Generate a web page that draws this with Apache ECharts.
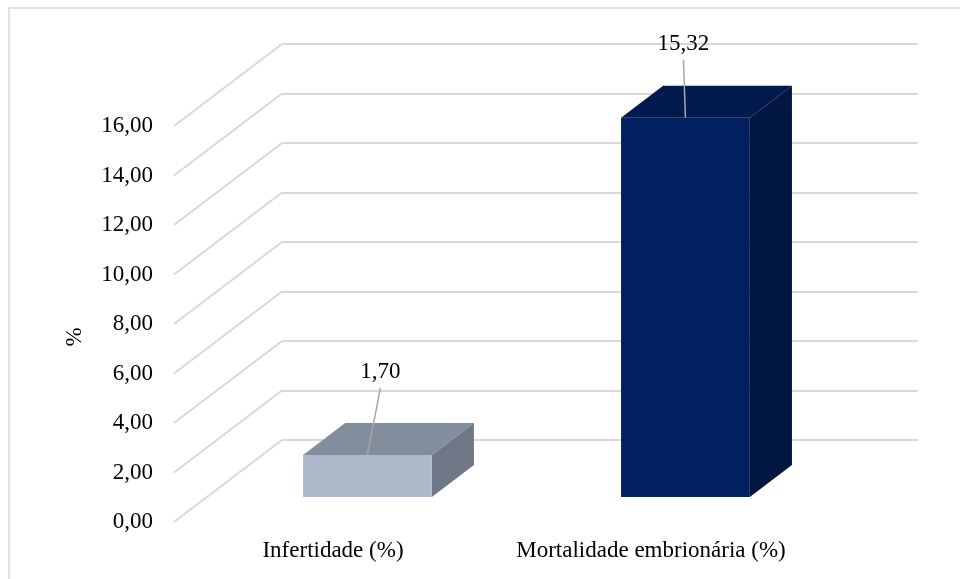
<!DOCTYPE html>
<html>
<head>
<meta charset="utf-8">
<script src="https://cdn.jsdelivr.net/npm/echarts@6/dist/echarts.min.js"></script>
<style>
  html, body { margin: 0; padding: 0; background: #fff; }
  #chart { width: 960px; height: 579px; }
</style>
</head>
<body>
<div id="chart"></div>
<script>
// dados
const categories = ['Infertidade (%)', 'Mortalidade embrionária (%)'];
const values = [1.70, 15.32];
const yTicks = [0, 2, 4, 6, 8, 10, 12, 14, 16];

// cores das faces (frente, topo, lado)
const faceColors = [
  ['#adb9ca', '#838e9c', '#6e7887'],
  ['#002060', '#001a4e', '#011640']
];
// deslocamento do rótulo em relação ao topo da barra
const labelShift = [[13, -83], [-2, -74]];

// projeção da profundidade (parede de trás -> frente)
const DX = -108, DY = 82;
const FRONT = 0.695, BACK = 0.305;
const FONT = 'Liberation Serif';

const chart = echarts.init(document.getElementById('chart'));

function fmt(v) { return v.toFixed(2).replace('.', ','); }

function renderGrid(params, api) {
  const cs = params.coordSys;
  const y = api.coord([0, api.value(0)])[1];
  return {
    type: 'line',
    shape: { x1: cs.x, y1: y, x2: cs.x + DX, y2: y + DY },
    style: { stroke: '#d9d9d9', lineWidth: 2 },
    silent: true
  };
}

function renderBar(params, api) {
  const i = params.dataIndex;
  const val = api.value(1);
  const base = api.coord([i, 0]);
  const top = api.coord([i, val]);
  const hw = api.size([1, 0])[0] * 0.405 / 2;
  const cx = base[0] + 1.5;
  const fx = cx + DX * FRONT, fy = DY * FRONT;
  const bx = cx + DX * BACK, by = DY * BACK;
  const fL = fx - hw, fR = fx + hw, bL = bx - hw, bR = bx + hw;
  const fT = top[1] + fy, fB = base[1] + fy;
  const bT = top[1] + by, bB = base[1] + by;
  const c = faceColors[i];
  const sh = labelShift[i];
  return {
    type: 'group',
    children: [
      { type: 'polygon', shape: { points: [[fR, fT], [bR, bT], [bR, bB], [fR, fB]] }, style: { fill: c[2] } },
      { type: 'polygon', shape: { points: [[fL, fT], [fR, fT], [bR, bT], [bL, bT]] }, style: { fill: c[1] } },
      { type: 'rect', shape: { x: fL, y: fT, width: fR - fL, height: fB - fT }, style: { fill: c[0] } },
      { type: 'line', shape: { x1: fx, y1: fT, x2: fx + sh[0], y2: fT + sh[1] + 16 }, style: { stroke: '#a6a6a6', lineWidth: 1.5 } },
      {
        type: 'text', x: fx + sh[0], y: fT + sh[1],
        style: { text: fmt(val), fill: '#000', font: '23px ' + FONT, align: 'center', verticalAlign: 'middle' }
      }
    ]
  };
}

const option = {
  backgroundColor: '#fff',
  animation: false,
  graphic: [
    { type: 'rect', shape: { x: 9, y: 8, width: 1000, height: 1000 }, style: { fill: 'none', stroke: '#d9d9d9', lineWidth: 1.5 }, silent: true },
    { type: 'text', x: 75, y: 337, rotation: Math.PI / 2,
      style: { text: '%', fill: '#000', font: '23px ' + FONT, align: 'center', verticalAlign: 'middle' } }
  ],
  grid: [
    { left: 282, right: 42, top: 44, height: 396 },   // parede de trás
    { left: 174, width: 636, top: 126, height: 396 }  // borda da frente
  ],
  xAxis: [
    { type: 'category', gridIndex: 0, data: categories, show: false },
    {
      type: 'category', gridIndex: 1, data: categories,
      axisLine: { show: false }, axisTick: { show: false },
      axisLabel: { color: '#000', fontFamily: FONT, fontSize: 23, margin: 17, interval: 0 }
    }
  ],
  yAxis: [
    {
      type: 'value', gridIndex: 0, min: 0, max: 16, interval: 2,
      axisLabel: { show: false }, axisLine: { show: false }, axisTick: { show: false },
      splitLine: { lineStyle: { color: '#d9d9d9', width: 2 } }
    },
    {
      type: 'value', gridIndex: 1, min: 0, max: 16, interval: 2,
      axisLine: { show: false }, axisTick: { show: false }, splitLine: { show: false },
      axisLabel: { color: '#000', fontFamily: FONT, fontSize: 23, margin: 21, formatter: fmt }
    }
  ],
  series: [
    {
      type: 'custom', xAxisIndex: 0, yAxisIndex: 0,
      renderItem: renderGrid, data: yTicks.map(v => [v]),
      encode: { y: 0 }, silent: true, z: 1
    },
    {
      type: 'custom', xAxisIndex: 0, yAxisIndex: 0,
      renderItem: renderBar, data: values.map((v, i) => [i, v]),
      encode: { x: 0, y: 1 }, z: 2
    }
  ]
};

chart.setOption(option);
</script>
</body>
</html>
